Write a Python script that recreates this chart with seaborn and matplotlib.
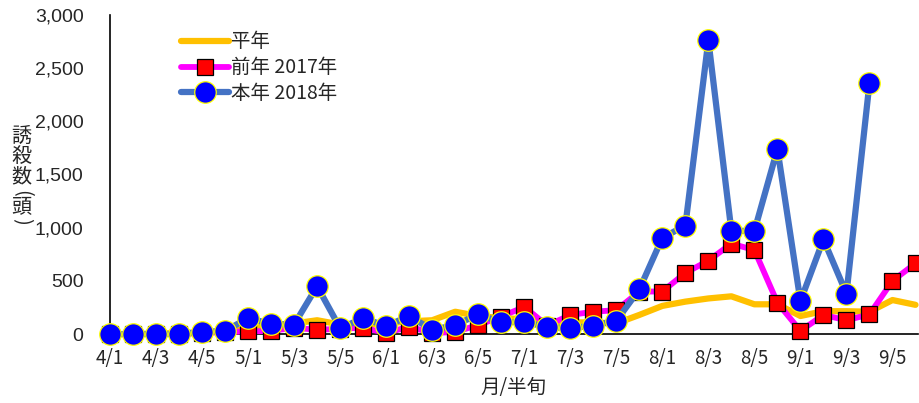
import numpy as np
import pandas as pd
import matplotlib
matplotlib.use("Agg")
import matplotlib.pyplot as plt
import seaborn as sns

# pentad labels (month/pentad), Apr 1st pentad .. Sep 6th pentad
pentads = [f"{m}/{p}" for m in range(4, 10) for p in range(1, 7)]

# 平年 (normal year)
normal = [0, 0, 5, 10, 15, 25, 50, 80, 100, 130, 90, 90,
          100, 120, 130, 210, 170, 150, 140, 120, 110, 110, 100, 180,
          265, 305, 335, 355, 280, 280, 170, 215, 215, 210, 320, 275]
# 前年 2017年
prev_2017 = [0, 0, 0, 0, 10, 20, 25, 30, 60, 40, 50, 60,
             10, 70, 10, 20, 85, 165, 255, 80, 180, 210, 225, 400,
             400, 575, 690, 850, 790, 295, 30, 180, 130, 185, 500, 665]
# 本年 2018年 (data through 9/4)
this_2018 = [0, 0, 0, 0, 20, 30, 150, 95, 90, 450, 55, 150,
             75, 170, 40, 85, 185, 110, 115, 65, 55, 80, 125, 420,
             905, 1020, 2760, 970, 970, 1740, 310, 890, 380, 2360, np.nan, np.nan]

df = pd.DataFrame({
    "idx": np.arange(len(pentads)),
    "normal": normal,
    "prev": prev_2017,
    "this": this_2018,
})

sns.set_style("white")
plt.rcParams["font.family"] = ["Liberation Sans", "Noto Sans CJK JP", "DejaVu Sans"]

fig = plt.figure(figsize=(9.19, 4.03), dpi=100)
ax = fig.add_axes([0.1197, 0.171, 0.879, 0.792])

sns.lineplot(data=df, x="idx", y="normal", ax=ax, color="#FFC000", linewidth=4.5,
             label="平年", clip_on=False, zorder=2)
sns.lineplot(data=df, x="idx", y="prev", ax=ax, color="#FF00FF", linewidth=4.2,
             marker="s", markersize=11, markerfacecolor="#FF0000",
             markeredgecolor="#000000", markeredgewidth=0.9,
             label="前年 2017年", clip_on=False, zorder=3)
sns.lineplot(data=df, x="idx", y="this", ax=ax, color="#4472C4", linewidth=4.5,
             marker="o", markersize=15.5, markerfacecolor="#0000FF",
             markeredgecolor="#FFFF00", markeredgewidth=0.9,
             label="本年 2018年", clip_on=False, zorder=4)

ax.set_xlim(0, 35.1)
ax.set_ylim(0, 3000)
ax.set_yticks(np.arange(0, 3001, 500))
ax.set_yticklabels([f"{v:,}" for v in range(0, 3001, 500)], fontsize=14)
ax.set_xticks(df["idx"][::2])
ax.set_xticklabels(pentads[::2], fontsize=13.5, family=["Noto Sans CJK JP"])
ax.tick_params(axis="both", direction="in", length=5, color="#A0A0A0", width=1)
ax.tick_params(axis="x", pad=10)
ax.tick_params(axis="y", pad=19)

for side in ["top", "right"]:
    ax.spines[side].set_visible(False)
for side in ["left", "bottom"]:
    ax.spines[side].set_color("black")
    ax.spines[side].set_linewidth(1.2)

ax.set_xlabel("月/半旬", fontsize=14, family=["Noto Sans CJK JP"], labelpad=6)
ax.set_ylabel("")

# vertical y-axis title, one character per row (parentheses turned)
ylabel_chars = ["誘", "殺", "数", "(", "頭", ")"]
ylabel_rows = [136, 157, 177, 193, 207, 221]
for ch, row in zip(ylabel_chars, ylabel_rows):
    rot = -90 if ch in "()" else 0
    fig.text(0.023, 1 - row / 403, ch, fontsize=14.5, ha="center", va="center",
             rotation=rot, family=["Noto Sans CJK JP"])

leg = ax.legend(loc="upper left", bbox_to_anchor=(0.066, 1.003), frameon=False,
                handlelength=2.5, handletextpad=0.1, labelspacing=0.25,
                prop={"family": ["Noto Sans CJK JP"], "size": 14})

fig.savefig("out.png", dpi=100)
